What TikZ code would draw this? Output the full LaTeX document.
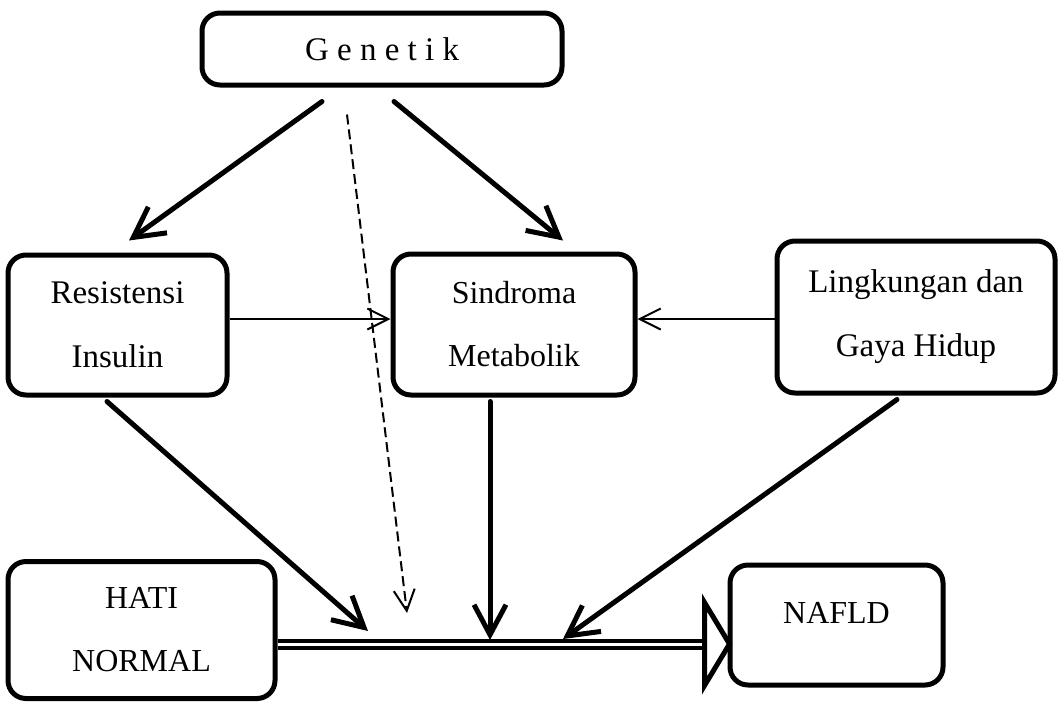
\documentclass[tikz,border=0pt]{standalone}
\usepackage{fontspec}
\setmainfont{Liberation Serif}
\usetikzlibrary{arrows.meta,positioning,calc}
\tikzset{
  box/.style={draw=black, rounded corners=9pt, line width=2.5pt, fill=white, align=center, inner sep=0pt, font=\fontsize{16}{31.5}\selectfont},
  widebox/.style={box, font=\fontsize{16.5}{32}\selectfont},
  arrow/.style={-{Straight Barb[length=15pt,width=16pt]}, line width=2.5pt, line cap=round},
  thinarrow/.style={-{Straight Barb[length=10.5pt,width=10.5pt]}, line width=1pt},
  dasharrow/.style={thinarrow, dash pattern=on 5pt off 2.5pt},
  flowline/.style={double, double distance=1.5pt, line width=2pt},
  flowhead/.style={line width=2.5pt, line join=miter}
}
\begin{document}
\begin{tikzpicture}[x=0.5pt, y=-0.5pt]
\useasboundingbox (0,0) rectangle (1059,702);
% boxes
\node[box, minimum width=180pt, minimum height=36pt, font=\fontsize{16.5}{20}\selectfont] (gen) at (382,49) {G e n e t i k};
\node[widebox, minimum width=109.5pt, minimum height=70pt] (res) at (117.5,325) {Resistensi\\Insulin};
\node[box, minimum width=121pt, minimum height=70.5pt] (sin) at (514,324.5) {Sindroma\\Metabolik};
\node[widebox, minimum width=139pt, minimum height=76pt] (lin) at (916,317) {Lingkungan dan\\Gaya Hidup};
\node[box, minimum width=133.5pt, minimum height=68.5pt] (hati) at (141.5,630) {HATI\\NORMAL};
\node[box, minimum width=106.5pt, minimum height=60pt, text depth=12pt] (nafld) at (836.5,625) {NAFLD};
% ends on the main line
\coordinate (flowS) at ($(hati.east)+(0,14)$);
\coordinate (flowT) at ($(flowS -| nafld.west)+(2,0)$);
\coordinate (endRes) at (368,631);
\coordinate (endGen) at (407,613);
\coordinate (endSin) at (490,640);
\coordinate (endLin) at (563,639);
% genetik
\draw[arrow] ($(gen.south)+(-60,14)$) -- ($(res.north)+(11.5,-12)$);
\draw[arrow] ($(gen.south)+(12,14)$) -- ($(sin.north)+(49,-11)$);
\draw[dasharrow] ($(gen.south)+(-35,27)$) -- (endGen);
% side links
\draw[thinarrow] ($(res.east)+(0,-6)$) -- ($(res.east -| sin.west)+(0,-6)$);
\draw[thinarrow] ($(lin.west)+(0,2)$) -- ($(lin.west -| sin.east)+(0,2)$);
% down to the main line
\draw[arrow] ($(res.south)+(-10.5,4)$) -- (endRes);
\draw[arrow] ($(sin.south)+(-24,4)$) -- (endSin);
\draw[arrow] ($(lin.south)+(-19,4)$) -- (endLin);
% main line
\draw[flowline] (flowS) -- ($(flowT)+(-25,0)$);
\draw[flowhead] ($(flowT)+(-25,-41.5)$) -- (flowT) -- ($(flowT)+(-25,41.5)$) -- cycle;
\end{tikzpicture}
\end{document}
